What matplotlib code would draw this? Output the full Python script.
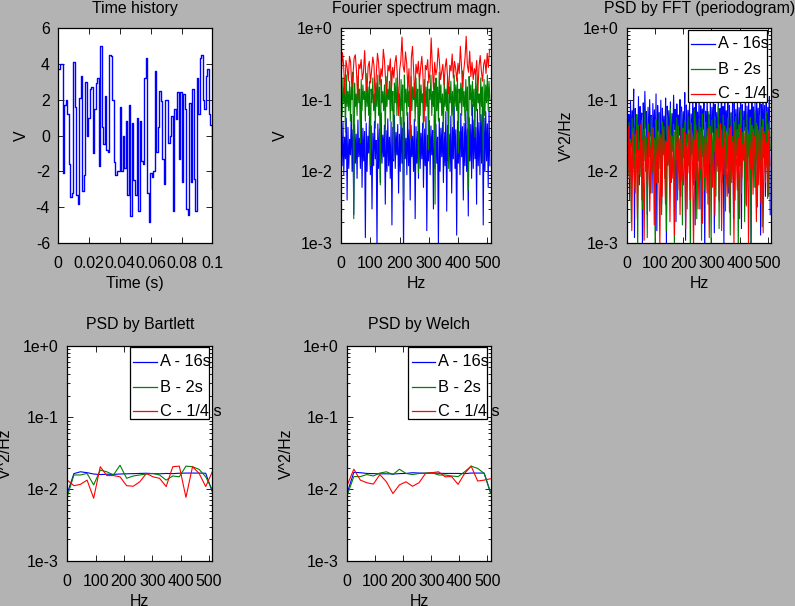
import numpy as np
import matplotlib
matplotlib.use("Agg")
import matplotlib.pyplot as plt
from matplotlib.ticker import FixedLocator, FixedFormatter, LogLocator, NullFormatter
from matplotlib.patches import Rectangle
from matplotlib.lines import Line2D

# ---------------- data ----------------
fs = 1024.0
time_values = [3.7, 4.0, 4.0, -2.1, 1.7, 2.0, 1.2, -1.6, -3.4, -3.2,
               4.1, 1.6, -3.3, -3.8, 2.1, 3.3, -3.1, -2.2, 3.0, 0.0,
               1.0, 2.6, 2.7, -1.0, 1.5, 2.9, 3.2, -1.7, 5.0, 0.5,
               -0.5, 2.2, -0.8, -0.9, 4.5, 4.4, 2.0, -1.5, -2.2, -2.0,
               -2.0, 1.6, -2.0, 0.0, -1.8, 0.8, -3.3, 1.7, -4.5, 0.7,
               -2.5, -3.3, 1.0, -4.2, 0.8, -1.4, -1.6, 3.2, 4.3, -3.2,
               -4.8, -2.1, -2.3, -2.0, 3.6, -0.9, 0.5, 2.5, 1.9, -1.3,
               -2.7, 2.0, 2.0, -0.4, 0.0, 1.1, -4.2, 1.5, 0.9, 2.4,
               -1.3, 2.4, -2.6, 2.3, 1.5, -4.1, -4.4, 1.8, -2.6, 2.6,
               -2.4, -4.2, 3.2, 1.2, 4.3, 4.5, 2.0, 1.5, 3.3, 3.7,
               1.2, 0.6, -3.0, -4.3]

blue_fft = [0.035, 0.012, 0.048, 0.009, 0.030, 0.015, 0.055, 0.004, 0.041, 0.011,
            0.028, 0.017, 0.062, 0.010, 0.038, 0.0025, 0.045, 0.013, 0.033, 0.008,
            0.052, 0.016, 0.029, 0.011, 0.070, 0.006, 0.040, 0.014, 0.036, 0.0012,
            0.047, 0.010, 0.031, 0.018, 0.058, 0.009, 0.043, 0.003, 0.034, 0.012,
            0.050, 0.015, 0.027, 0.0009, 0.046, 0.011, 0.039, 0.007, 0.065, 0.013,
            0.032, 0.016, 0.044, 0.0035, 0.037, 0.010, 0.054, 0.012, 0.030, 0.008,
            0.049, 0.0018, 0.041, 0.014, 0.060, 0.011, 0.035, 0.017, 0.045, 0.005,
            0.033, 0.010, 0.057, 0.013, 0.040, 0.0008, 0.048, 0.015, 0.029, 0.009,
            0.066, 0.012, 0.038, 0.004, 0.044, 0.016, 0.031, 0.010, 0.053, 0.0022,
            0.042, 0.013, 0.036, 0.008, 0.075, 0.011, 0.034, 0.015, 0.047, 0.006,
            0.039, 0.012, 0.058, 0.0015, 0.032, 0.014, 0.051, 0.009, 0.043, 0.017,
            0.037, 0.003, 0.062, 0.011, 0.045, 0.013, 0.030, 0.0009, 0.055, 0.010,
            0.040, 0.016, 0.048, 0.007, 0.035, 0.012, 0.068, 0.0028, 0.044, 0.014,
            0.033, 0.010, 0.059, 0.005, 0.041, 0.015, 0.080, 0.011, 0.038, 0.0013,
            0.050, 0.013, 0.036, 0.009, 0.064, 0.016, 0.042, 0.004, 0.047, 0.012,
            0.070, 0.010, 0.039, 0.0024, 0.056, 0.014, 0.045, 0.008, 0.085, 0.011,
            0.052, 0.015, 0.041, 0.0035, 0.073, 0.012, 0.048, 0.009, 0.062, 0.013,
            0.090, 0.0018, 0.055, 0.010, 0.068, 0.014, 0.046, 0.006, 0.078, 0.012]

green_fft = [0.14, 0.06, 0.20, 0.09, 0.16, 0.035, 0.22, 0.08, 0.13, 0.07,
             0.18, 0.05, 0.15, 0.10, 0.24, 0.0022, 0.17, 0.08, 0.12, 0.06,
             0.21, 0.09, 0.14, 0.025, 0.19, 0.07, 0.16, 0.10, 0.13, 0.05,
             0.23, 0.08, 0.15, 0.06, 0.18, 0.012, 0.14, 0.09, 0.20, 0.07,
             0.12, 0.04, 0.17, 0.08, 0.22, 0.06, 0.15, 0.0065, 0.19, 0.09,
             0.13, 0.07, 0.16, 0.03, 0.21, 0.08, 0.14, 0.10, 0.18, 0.05,
             0.25, 0.07, 0.13, 0.015, 0.17, 0.09, 0.20, 0.06, 0.15, 0.08,
             0.12, 0.045, 0.19, 0.07, 0.16, 0.004, 0.22, 0.09, 0.14, 0.06,
             0.18, 0.08, 0.13, 0.028, 0.21, 0.07, 0.15, 0.10, 0.17, 0.05,
             0.20, 0.08, 0.14, 0.0095, 0.23, 0.06, 0.16, 0.09, 0.12, 0.04,
             0.19, 0.07, 0.15, 0.08, 0.18, 0.02, 0.14, 0.10, 0.22, 0.06,
             0.13, 0.08, 0.17, 0.0035, 0.20, 0.07, 0.15, 0.05, 0.24, 0.09,
             0.16, 0.06, 0.12, 0.033, 0.19, 0.08, 0.14, 0.07, 0.21, 0.011,
             0.15, 0.09, 0.18, 0.06, 0.13, 0.04, 0.22, 0.08, 0.16, 0.07,
             0.20, 0.018, 0.14, 0.09, 0.17, 0.06, 0.25, 0.08, 0.13, 0.05,
             0.19, 0.07, 0.15, 0.0055, 0.21, 0.10, 0.16, 0.06, 0.18, 0.08,
             0.14, 0.03, 0.23, 0.07, 0.17, 0.09, 0.12, 0.05, 0.20, 0.08,
             0.15, 0.013, 0.19, 0.06, 0.16, 0.09, 0.22, 0.07, 0.18, 0.10]

red_fft = [0.21, 0.45, 0.30, 0.12, 0.35, 0.28, 0.18, 0.40, 0.33, 0.15,
           0.22, 0.38, 0.42, 0.25, 0.10, 0.31, 0.27, 0.36, 0.19, 0.24,
           0.48, 0.20, 0.13, 0.29, 0.34, 0.17, 0.26, 0.39, 0.30, 0.09,
           0.23, 0.44, 0.32, 0.16, 0.27, 0.21, 0.50, 0.35, 0.18, 0.12,
           0.30, 0.25, 0.37, 0.14, 0.28, 0.20, 0.33, 0.41, 0.22, 0.06,
           0.26, 0.35, 0.74, 0.29, 0.24, 0.46, 0.32, 0.15, 0.27, 0.03,
           0.38, 0.55, 0.25, 0.11, 0.31, 0.23, 0.34, 0.18, 0.28, 0.40,
           0.21, 0.05, 0.30, 0.26, 0.36, 0.17, 0.25, 0.72, 0.29, 0.14,
           0.33, 0.22, 0.27, 0.52, 0.35, 0.19, 0.24, 0.31, 0.16, 0.28,
           0.37, 0.21, 0.12, 0.30, 0.25, 0.43, 0.20, 0.34, 0.27, 0.18,
           0.32, 0.23, 0.55, 0.29, 0.15, 0.26, 0.38, 0.76, 0.30, 0.24,
           0.47, 0.21, 0.33, 0.19, 0.27, 0.22, 0.35, 0.13, 0.29, 0.41,
           0.25, 0.18, 0.31, 0.36, 0.23, 0.44, 0.28, 0.50]

blue_psd = [0.085, 0.030, 0.062, 0.0040, 0.095, 0.022, 0.070, 0.035, 0.140, 0.0012,
            0.075, 0.028, 0.058, 0.018, 0.110, 0.0065, 0.080, 0.033, 0.065, 0.0008,
            0.090, 0.025, 0.130, 0.040, 0.068, 0.0025, 0.078, 0.020, 0.100, 0.031,
            0.060, 0.0050, 0.088, 0.027, 0.072, 0.015, 0.120, 0.0015, 0.083, 0.036,
            0.066, 0.024, 0.098, 0.0035, 0.076, 0.029, 0.059, 0.019, 0.105, 0.0009,
            0.081, 0.034, 0.070, 0.021, 0.093, 0.0070, 0.064, 0.026, 0.115, 0.038,
            0.073, 0.0020, 0.087, 0.023, 0.061, 0.032, 0.100, 0.0045, 0.079, 0.017,
            0.068, 0.030, 0.125, 0.0011, 0.084, 0.025, 0.071, 0.037, 0.092, 0.0055,
            0.063, 0.022, 0.108, 0.028, 0.077, 0.0018, 0.096, 0.033, 0.067, 0.020,
            0.135, 0.0030, 0.082, 0.026, 0.074, 0.039, 0.089, 0.0007, 0.069, 0.024,
            0.102, 0.031, 0.062, 0.0060, 0.097, 0.019, 0.078, 0.035, 0.118, 0.0014,
            0.086, 0.027, 0.066, 0.023, 0.094, 0.0040, 0.075, 0.032, 0.140, 0.021,
            0.080, 0.0010, 0.091, 0.029, 0.070, 0.036, 0.106, 0.0050, 0.083, 0.018,
            0.065, 0.026, 0.122, 0.0022, 0.088, 0.033, 0.073, 0.020, 0.099, 0.0085,
            0.077, 0.030, 0.112, 0.0016, 0.085, 0.024, 0.069, 0.037, 0.128, 0.0035,
            0.081, 0.022, 0.095, 0.031, 0.072, 0.0009, 0.104, 0.028, 0.079, 0.019,
            0.090, 0.0060, 0.115, 0.034, 0.076, 0.025, 0.098, 0.0013, 0.086, 0.032,
            0.133, 0.021, 0.083, 0.0045, 0.094, 0.029, 0.078, 0.038, 0.110, 0.0025]

green_psd = [0.035, 0.0090, 0.048, 0.0150, 0.028, 0.0020, 0.055, 0.0110, 0.040, 0.0060,
             0.032, 0.0180, 0.062, 0.0007, 0.044, 0.0120, 0.026, 0.0085, 0.051, 0.0030,
             0.038, 0.0140, 0.070, 0.0100, 0.030, 0.0012, 0.046, 0.0160, 0.034, 0.0050,
             0.058, 0.0095, 0.041, 0.0200, 0.029, 0.0005, 0.053, 0.0130, 0.037, 0.0070,
             0.065, 0.0110, 0.033, 0.0025, 0.049, 0.0170, 0.042, 0.0080, 0.027, 0.0015,
             0.060, 0.0125, 0.039, 0.0060, 0.075, 0.0100, 0.031, 0.0190, 0.045, 0.0009,
             0.036, 0.0145, 0.056, 0.0040, 0.043, 0.0110, 0.028, 0.0075, 0.067, 0.0018,
             0.040, 0.0155, 0.050, 0.0090, 0.033, 0.0030, 0.059, 0.0120, 0.038, 0.0006,
             0.047, 0.0175, 0.030, 0.0065, 0.072, 0.0105, 0.044, 0.0022, 0.035, 0.0140,
             0.054, 0.0080, 0.041, 0.0011, 0.063, 0.0160, 0.029, 0.0055, 0.048, 0.0115,
             0.037, 0.0035, 0.068, 0.0130, 0.042, 0.0008, 0.052, 0.0095, 0.032, 0.0185,
             0.057, 0.0045, 0.039, 0.0120, 0.080, 0.0016, 0.046, 0.0100, 0.034, 0.0070,
             0.061, 0.0150, 0.043, 0.0028, 0.036, 0.0110, 0.055, 0.0060, 0.040, 0.0013,
             0.066, 0.0135, 0.031, 0.0085, 0.049, 0.0040, 0.058, 0.0165, 0.038, 0.0007,
             0.045, 0.0120, 0.073, 0.0050, 0.035, 0.0145, 0.052, 0.0020, 0.041, 0.0100,
             0.064, 0.0075, 0.033, 0.0160, 0.056, 0.0010, 0.044, 0.0125, 0.039, 0.0060,
             0.070, 0.0140, 0.047, 0.0032, 0.037, 0.0110, 0.060, 0.0090, 0.042, 0.0017,
             0.053, 0.0155, 0.036, 0.0070, 0.068, 0.0115, 0.046, 0.0045, 0.050, 0.0200]

red_psd = [0.0030, 0.042, 0.0080, 0.025, 0.0015, 0.033, 0.012, 0.0050, 0.038, 0.0022,
           0.020, 0.0090, 0.045, 0.0040, 0.028, 0.0011, 0.031, 0.015, 0.0060, 0.036,
           0.0028, 0.022, 0.0100, 0.040, 0.0018, 0.027, 0.0070, 0.034, 0.013, 0.0009,
           0.030, 0.0045, 0.039, 0.018, 0.0035, 0.026, 0.0120, 0.043, 0.0020, 0.032,
           0.0080, 0.024, 0.0013, 0.037, 0.016, 0.0055, 0.029, 0.0025, 0.041, 0.011,
           0.0065, 0.035, 0.0016, 0.023, 0.0095, 0.033, 0.0040, 0.044, 0.014, 0.0008,
           0.028, 0.0075, 0.038, 0.0030, 0.021, 0.0110, 0.036, 0.0019, 0.031, 0.0085,
           0.025, 0.0050, 0.040, 0.0012, 0.034, 0.017, 0.0060, 0.027, 0.0024, 0.039,
           0.0100, 0.030, 0.0038, 0.046, 0.0015, 0.022, 0.0090, 0.035, 0.013, 0.0045,
           0.032, 0.0027, 0.042, 0.0070, 0.026, 0.0010, 0.037, 0.019, 0.0055, 0.029,
           0.0022, 0.041, 0.0080, 0.024, 0.0140, 0.034, 0.0033, 0.038, 0.0009, 0.027,
           0.0110, 0.036, 0.0048, 0.031, 0.016, 0.0020, 0.043, 0.0065, 0.028, 0.0036,
           0.040, 0.0014, 0.033, 0.0095, 0.025, 0.0042, 0.037, 0.012]

bartlett_A = [0.0088, 0.0165, 0.0175, 0.0170, 0.0163, 0.0160, 0.0162, 0.0161, 0.0163, 0.0164,
              0.0165, 0.0166, 0.0167, 0.0165, 0.0164, 0.0166, 0.0165, 0.0167, 0.0168, 0.0168,
              0.0168, 0.0167, 0.0092]
bartlett_B = [0.0079, 0.0158, 0.0158, 0.0166, 0.0115, 0.0185, 0.0175, 0.0158, 0.0216, 0.0142,
              0.0153, 0.0158, 0.0163, 0.0166, 0.0158, 0.0134, 0.0153, 0.0149, 0.0210, 0.0206,
              0.0189, 0.0149, 0.0098]
bartlett_C = [0.0134, 0.0112, 0.0117, 0.0134, 0.0075, 0.0206, 0.0155, 0.0155, 0.0149, 0.0112,
              0.0110, 0.0127, 0.0166, 0.0149, 0.0142, 0.0109, 0.0206, 0.0210, 0.0077, 0.0206,
              0.0166, 0.0109, 0.0175]
welch_A = [0.0090, 0.0172, 0.0170, 0.0166, 0.0165, 0.0164, 0.0164, 0.0163, 0.0165, 0.0166,
           0.0170, 0.0168, 0.0167, 0.0168, 0.0167, 0.0166, 0.0166, 0.0166, 0.0165, 0.0168,
           0.0168, 0.0168, 0.0088]
welch_B = [0.0083, 0.0150, 0.0150, 0.0160, 0.0153, 0.0168, 0.0175, 0.0160, 0.0190, 0.0166,
           0.0160, 0.0166, 0.0168, 0.0170, 0.0158, 0.0158, 0.0153, 0.0150, 0.0175, 0.0210,
           0.0195, 0.0166, 0.0088]
welch_C = [0.0115, 0.0190, 0.0134, 0.0123, 0.0118, 0.0160, 0.0127, 0.0087, 0.0115, 0.0127,
           0.0110, 0.0123, 0.0166, 0.0170, 0.0175, 0.0149, 0.0150, 0.0117, 0.0166, 0.0210,
           0.0130, 0.0134, 0.0140]

legend_labels = ["A - 16s", "B - 2s", "C - 1/4 s"]
series_colors = ["#0000ff", "#008000", "#ff0000"]
titles = ["Time history", "Fourier spectrum magn.", "PSD by FFT (periodogram)",
          "PSD by Bartlett", "PSD by Welch"]
time_ticks = [0, 0.02, 0.04, 0.06, 0.08, 0.1]
time_ticklabels = ["0", "0.02", "0.04", "0.06", "0.08", "0.1"]
v_ticks = [-6, -4, -2, 0, 2, 4, 6]
v_ticklabels = ["-6", "-4", "-2", "0", "2", "4", "6"]
hz_ticks = [0, 100, 200, 300, 400, 500]
hz_ticklabels = ["0", "100", "200", "300", "400", "500"]
log_ticks = [1e-3, 1e-2, 1e-1, 1e0]
log_ticklabels = ["1e-3", "1e-2", "1e-1", "1e+0"]

# ---------------- figure ----------------
W, H = 795, 606
FS = 11.4
plt.rcParams['font.family'] = ['Liberation Sans', 'DejaVu Sans']
plt.rcParams['font.size'] = FS
fig = plt.figure(figsize=(W / 100, H / 100), dpi=100, facecolor="#b3b3b3")


def make_ax(left, right, top, bottom):
    ax = fig.add_axes([left / W, 1 - bottom / H, (right - left) / W, (bottom - top) / H])
    ax.set_facecolor("white")
    for s in ax.spines.values():
        s.set_linewidth(0.9)
        s.set_color("black")
    ax.tick_params(which="both", direction="in", top=True, right=True,
                   labelsize=FS, width=0.6, colors="black")
    ax.tick_params(which="major", length=4)
    ax.tick_params(which="minor", length=2.5)
    ax.tick_params(axis="x", pad=9)
    ax.tick_params(axis="y", pad=6)
    return ax


def finish(ax, title, xlabel, ylabel, ylab_off, wpx, hpx, title_off):
    ax.set_title(title, y=1 + title_off / hpx, va="center", pad=0, fontsize=FS)
    ax.set_xlabel(xlabel, fontsize=FS)
    ax.xaxis.set_label_coords(0.5, -40 / hpx)
    ax.xaxis.label.set_va("center")
    ax.set_ylabel(ylabel, fontsize=FS)
    ax.yaxis.set_label_coords(-ylab_off / wpx, 0.5)
    ax.yaxis.label.set_va("center")


def hz_axis(ax):
    ax.set_xlim(0, 512)
    ax.xaxis.set_major_locator(FixedLocator(hz_ticks))
    ax.xaxis.set_major_formatter(FixedFormatter(hz_ticklabels))


def log_axis(ax):
    ax.set_yscale("log")
    ax.set_ylim(1e-3, 1)
    ax.yaxis.set_major_locator(FixedLocator(log_ticks))
    ax.yaxis.set_major_formatter(FixedFormatter(log_ticklabels))
    ax.yaxis.set_minor_locator(LogLocator(base=10, subs=np.arange(2, 10)))
    ax.yaxis.set_minor_formatter(NullFormatter())


def legend_box(x0, x1, y0, y1, line_x0, line_x1, text_x, rows):
    fig.add_artist(Rectangle((x0 / W, 1 - y1 / H), (x1 - x0) / W, (y1 - y0) / H,
                             transform=fig.transFigure, facecolor="white",
                             edgecolor="black", linewidth=0.9, zorder=5))
    for lab, col, ry in zip(legend_labels, series_colors, rows):
        fig.add_artist(Line2D([line_x0 / W, line_x1 / W], [1 - ry / H, 1 - ry / H],
                              transform=fig.transFigure, color=col, linewidth=0.9, zorder=6))
        fig.text(text_x / W, 1 - ry / H, lab, ha="left", va="center", fontsize=FS + 0.4,
                 zorder=7)


LW = 0.8

# 1. time history
ax1 = make_ax(58.3, 212.3, 27.7, 243.3)
t = np.arange(len(time_values)) / fs
ax1.step(t, time_values, where="post", color=series_colors[0], linewidth=1.0)
ax1.set_xlim(0, 0.1)
ax1.set_ylim(-6, 6)
ax1.xaxis.set_major_locator(FixedLocator(time_ticks))
ax1.xaxis.set_major_formatter(FixedFormatter(time_ticklabels))
ax1.yaxis.set_major_locator(FixedLocator(v_ticks))
ax1.yaxis.set_major_formatter(FixedFormatter(v_ticklabels))
finish(ax1, titles[0], "Time (s)", "V", 36.6, 154, 215.6, 19.0)

# 2. Fourier spectrum magnitude
ax2 = make_ax(341.3, 490.7, 27.7, 243.3)
for vals, col in zip([blue_fft, green_fft, red_fft], series_colors):
    f = np.arange(len(vals)) * (fs / 2) / len(vals)
    ax2.plot(f, vals, color=col, linewidth=LW)
hz_axis(ax2)
log_axis(ax2)
finish(ax2, titles[1], "Hz", "V", 61, 149.4, 215.6, 19.0)

# 3. periodogram
ax3 = make_ax(627.3, 771.0, 27.7, 243.3)
for vals, col in zip([blue_psd, green_psd, red_psd], series_colors):
    f = np.arange(len(vals)) * (fs / 2) / len(vals)
    ax3.plot(f, vals, color=col, linewidth=LW)
hz_axis(ax3)
log_axis(ax3)
finish(ax3, titles[2], "Hz", "V^2/Hz", 61, 143.7, 215.6, 19.0)
legend_box(688.3, 767.3, 30.0, 101.7, 691, 715, 717.7, [44, 69, 94])

# 4. Bartlett
ax4 = make_ax(67.3, 212.3, 345.7, 561.0)
for vals, col in zip([bartlett_A, bartlett_B, bartlett_C], series_colors):
    f = np.linspace(0, fs / 2, len(vals))
    ax4.plot(f, vals, color=col, linewidth=LW)
hz_axis(ax4)
log_axis(ax4)
finish(ax4, titles[3], "Hz", "V^2/Hz", 62, 145, 215.3, 21.0)
legend_box(130.0, 209.3, 347.3, 419.0, 133.3, 156.7, 160.0, [361.7, 387.3, 411.0])

# 5. Welch
ax5 = make_ax(347.3, 490.7, 345.7, 561.0)
for vals, col in zip([welch_A, welch_B, welch_C], series_colors):
    f = np.linspace(0, fs / 2, len(vals))
    ax5.plot(f, vals, color=col, linewidth=LW)
hz_axis(ax5)
log_axis(ax5)
finish(ax5, titles[4], "Hz", "V^2/Hz", 60.6, 143.4, 215.3, 21.0)
legend_box(408.3, 487.3, 347.3, 419.0, 411.7, 435.0, 437.7, [361.7, 387.3, 411.0])

fig.savefig("out.png", dpi=100, facecolor=fig.get_facecolor())
